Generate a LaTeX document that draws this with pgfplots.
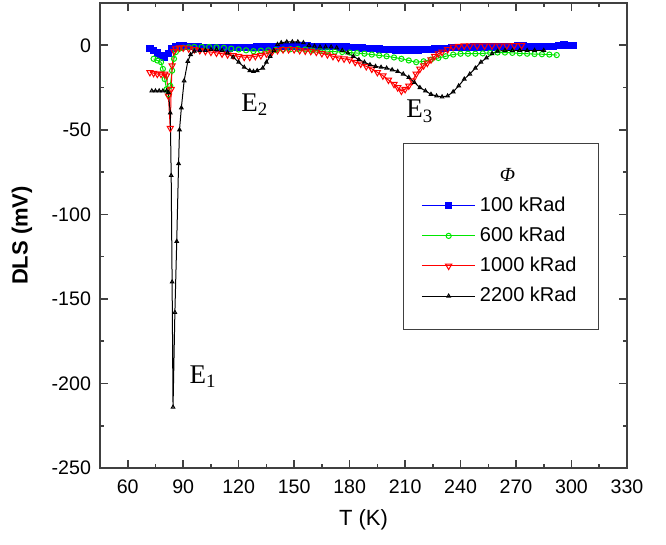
\documentclass[border=0pt]{standalone}
\usepackage{fontspec}
\setmainfont{Liberation Sans}
\newfontfamily\timesf{Liberation Serif}
\usepackage{pgfplots}
\pgfplotsset{compat=1.18}
\usetikzlibrary{calc}
\definecolor{pblue}{RGB}{0,0,255}
\definecolor{pgreen}{RGB}{0,230,0}
\definecolor{pred}{RGB}{255,0,0}

\begin{document}
\begin{tikzpicture}
\begin{axis}[
  scale only axis, width=263.5pt, height=232.5pt,
  xmin=45, xmax=330, ymin=-250, ymax=25,
  xtick={60,90,...,330}, ytick={-250,-200,...,0},
  minor x tick num=1, minor y tick num=1,
  tick pos=both, tick align=inside,
  major tick length=4pt, minor tick length=2pt,
  axis line style={black!75, line width=0.8pt},
  every tick/.style={black!75, line width=0.8pt},
  /pgf/number format/assume math mode=true,
  tick label style={font=\fontsize{9.8}{11}\selectfont},
  xticklabel style={yshift=-2.5pt},
  yticklabel style={xshift=-1pt},
  xlabel={T (K)}, ylabel={\bfseries DLS (mV)},
  label style={font=\fontsize{11}{13}\selectfont},
  xlabel style={at={(axis description cs:0.5,0)}, anchor=center, yshift=-26pt},
  ylabel style={at={(axis description cs:-0.148,0.5)}, anchor=center},
  legend image code/.code={\draw[mark repeat=2, mark phase=2, #1] plot coordinates {(0cm,0cm) (0.47cm,0cm) (0.94cm,0cm)};},
  legend style={at={(0.575,0.699)}, anchor=north west, draw=black!75,
    font=\fontsize{10}{12}\selectfont, inner xsep=9pt, inner ysep=10.5pt,
    row sep=2.3pt, cells={anchor=west}},
]
\addlegendimage{empty legend}
\addlegendentry{\hspace*{10pt}{\timesf\itshape Φ}}

% 100 kRad
\addplot[pblue, line width=0.5pt, mark=square*, mark size=1.6pt, mark options={solid}] coordinates {
(72,-2) (74,-3) (76,-4.5) (78,-6) (80,-7) (82,-5) (84,-2) (86,-0.6) (88,-0.5) (90,-0.5)
(92,-0.6) (94,-0.6) (96,-0.8) (98,-1) (100,-1.2) (103,-1.4) (106,-1.5) (109,-1.6) (112,-1.6)
(115,-1.6) (118,-1.5) (121,-1.5) (124,-1.4) (127,-1.2) (130,-1) (133,-1) (136,-0.9) (139,-0.8)
(142,-0.7) (145,-0.6) (148,-0.6) (151,-0.5) (154,-0.5) (157,-0.5) (160,-0.6) (163,-0.6)
(166,-0.7) (169,-0.8) (172,-0.9) (175,-1) (178,-1.1) (181,-1.2) (184,-1.4) (187,-1.6)
(190,-1.8) (193,-2) (196,-2.3) (199,-2.5) (202,-2.6) (205,-2.7) (208,-2.8) (211,-2.8)
(214,-2.8) (217,-2.7) (220,-2.6) (223,-2.5) (226,-2.3) (229,-2) (232,-1.8) (235,-1.5)
(238,-1.3) (241,-1.2) (244,-1.2) (247,-1.1) (250,-1.1) (253,-1) (256,-1) (259,-1) (262,-0.9)
(265,-0.8) (268,-0.6) (271,-0.4) (274,-0.5) (277,-0.6) (280,-0.7) (283,-0.8) (287,-0.8)
(290,-0.6) (293,-0.3) (296,0.2) (299,0) (301,0)
};
\addlegendentry{100 kRad}

% 600 kRad
\addplot[pgreen, line width=0.5pt, mark=o, mark size=1.3pt] coordinates {
(74,-8) (76,-9) (78,-10) (79,-14) (80,-20) (81,-26) (82,-29) (83,-24) (84,-15) (85,-8)
(86,-4) (88,-2) (90,-1.5) (93,-1.2) (96,-1) (100,-1) (104,-1) (108,-1.2) (112,-1.5) (116,-2)
(120,-2.5) (124,-3) (128,-3.5) (132,-3.2) (136,-3) (140,-2.8) (144,-2.5) (148,-2.3) (152,-2.2)
(156,-2.5) (160,-3) (164,-3.3) (168,-3.5) (172,-3.8) (176,-4) (180,-4.3) (184,-4.6) (188,-5)
(192,-5.5) (196,-6) (200,-6.5) (204,-7.2) (208,-8) (212,-9) (216,-10) (220,-9.5) (224,-8.5)
(228,-7.5) (232,-6.5) (236,-5.5) (240,-5) (244,-5) (248,-5) (252,-4.8) (256,-4.5) (260,-4.3)
(264,-4.3) (268,-4.5) (272,-4.8) (276,-5) (280,-5.2) (284,-5.3) (288,-5.5) (292,-5.8)
};
\addlegendentry{600 kRad}

% 1000 kRad
\addplot[pred, line width=0.5pt, mark=triangle, mark size=1.8pt, mark options={rotate=180}] coordinates {
(72,-16) (74,-16.5) (76,-17) (78,-17) (80,-17) (81,-18) (82,-30) (83,-49) (83.5,-26) (84,-12)
(85,-3.5) (86,-2) (88,-1.5) (90,-1.5) (93,-2) (96,-2.5) (99,-3) (102,-3.5) (105,-4) (108,-4.5)
(111,-5) (114,-5.5) (117,-6) (120,-6.5) (123,-7) (126,-7) (129,-6.5) (132,-6) (135,-5)
(138,-4) (141,-3) (144,-2.5) (147,-2.5) (150,-2.5) (153,-3) (156,-3.3) (159,-3.5) (162,-4)
(165,-4.8) (168,-5.5) (171,-6.5) (174,-7.5) (177,-8) (180,-8.5) (183,-10) (186,-11)
(189,-12.5) (192,-14) (195,-16) (198,-18) (201,-20.5) (204,-23) (206,-25) (208,-27) (210,-26)
(212,-24) (214,-21) (216,-17) (218,-14) (220,-12) (222,-10.5) (224,-8.5) (226,-6.5) (228,-5)
(230,-4) (233,-2.5) (236,-1) (239,-0.5) (242,-0.3) (245,-0.3) (249,-0.3) (253,-0.3)
(257,-0.2) (261,-0.2) (265,-0.2) (269,-0.1) (273,0)
};
\addlegendentry{1000 kRad}

% 2200 kRad
\addplot[black, line width=0.5pt, mark=triangle, mark size=1pt] coordinates {
(73,-27) (75,-27) (77,-27) (79,-27) (81,-27) (82,-28) (83,-40) (83.5,-77) (84,-140)
(84.5,-214) (85.5,-158) (86.5,-116) (87.5,-70) (88,-50) (89,-37) (90.5,-21) (92.5,-9.5)
(94,-5.5) (96,-3.5) (99,-3) (102,-3) (105,-2.5) (108,-2.5) (111,-3) (114,-4.5) (117,-7)
(120,-10) (123,-13) (126,-15) (128,-15.5) (130,-15) (133,-13.5) (135,-10) (137,-6.5)
(139,-3) (141,0.5) (143,1.5) (146,2) (149,2) (152,2) (155,1.5) (158,0) (161,-0.5) (164,-1)
(167,-1) (170,-1) (173,-1.5) (176,-3) (179,-4.5) (182,-6.5) (185,-8.5) (188,-10) (191,-11.5)
(194,-12.5) (197,-13) (200,-13.5) (203,-14.5) (206,-15.5) (209,-17) (212,-19) (215,-22)
(218,-25) (221,-27) (224,-29) (227,-30) (230,-30.5) (233,-30) (236,-27.5) (239,-24) (242,-20)
(245,-17) (248,-13.5) (251,-10) (254,-7.5) (257,-5) (260,-3.5) (264,-3) (268,-3) (272,-3)
(276,-3) (280,-3) (285,-3)
};
\addlegendentry{2200 kRad}

\node[font=\timesf\fontsize{13.5}{15}\selectfont] at (axis cs:100.7,-196) {E\textsubscript{1}};
\node[font=\timesf\fontsize{13.5}{15}\selectfont] at (axis cs:128.8,-35) {E\textsubscript{2}};
\node[font=\timesf\fontsize{13.5}{15}\selectfont] at (axis cs:218,-39) {E\textsubscript{3}};
\end{axis}
\path ($(current axis.south west)+(-50pt,-38.5pt)$) rectangle ($(current axis.north east)+(19.5pt,1.5pt)$);
\end{tikzpicture}
\end{document}
